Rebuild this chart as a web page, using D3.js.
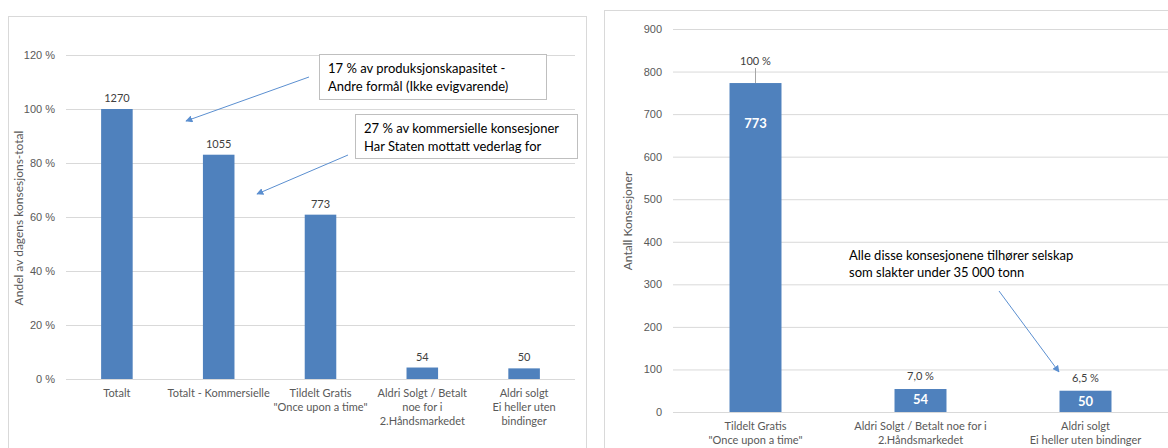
<!DOCTYPE html>
<html lang="no">
<head>
<meta charset="UTF-8">
<script src="https://d3js.org/d3.v7.min.js"></script>
<style>
    body { margin: 0; background: #fff; }
    svg { font-family: Lato, "Open Sans", sans-serif; }
    .grid line { stroke: #d9d9d9; stroke-width: 1px; }
    .grid .domain { display: none; }
    .tick text { fill: #595959; font-size: 11px; }
    .note { fill: #000; font-size: 13px; }
</style>
</head>
<body>
<div id="chart"></div>
<script>
    // Data - left chart (share of total licences)
    var leftCategories = [
        ["Totalt"],
        ["Totalt - Kommersielle"],
        ["Tildelt Gratis", "\"Once upon a time\""],
        ["Aldri Solgt / Betalt", "noe for i", "2.Håndsmarkedet"],
        ["Aldri solgt", "Ei heller uten", "bindinger"]
    ];
    var leftCounts = [1270, 1055, 773, 54, 50];
    var leftTotal = 1270;
    var leftTicks = [0, 0.2, 0.4, 0.6, 0.8, 1.0, 1.2];

    // Data - right chart (number of licences)
    var rightCategories = [
        ["Tildelt Gratis", "\"Once upon a time\""],
        ["Aldri Solgt / Betalt noe for i", "2.Håndsmarkedet"],
        ["Aldri solgt", "Ei heller uten bindinger"]
    ];
    var rightValues = [773, 54, 50];
    var rightShares = ["100 %", "7,0 %", "6,5 %"];
    var rightTicks = [0, 100, 200, 300, 400, 500, 600, 700, 800, 900];

    var barColor = "#4f81bd";
    var arrowColor = "#5b8fd0";

    var svg = d3.select("#chart").append("svg")
        .attr("width", 1168)
        .attr("height", 448);

    svg.append("defs").append("marker")
        .attr("id", "head")
        .attr("viewBox", "0 0 10 10")
        .attr("refX", 9).attr("refY", 5)
        .attr("markerWidth", 7).attr("markerHeight", 7)
        .attr("orient", "auto")
        .append("path")
        .attr("d", "M0,0 L10,5 L0,10 z")
        .attr("fill", arrowColor);

    // panel frames
    svg.append("rect").attr("x", 8.5).attr("y", 16.5).attr("width", 578).attr("height", 440)
        .attr("fill", "none").attr("stroke", "#d9d9d9");
    svg.append("rect").attr("x", 604.5).attr("y", 10.5).attr("width", 600).attr("height", 450)
        .attr("fill", "none").attr("stroke", "#d9d9d9");

    function labelLines(sel, lines, lh) {
        sel.text(null);
        lines.forEach(function (l, i) {
            sel.append("tspan").attr("x", 0).attr("dy", i === 0 ? "0.71em" : lh).text(l);
        });
    }

    // ---------- Left chart ----------
    var L = { left: 66, right: 575, top: 55, bottom: 379 };
    var xL = d3.scaleBand()
        .domain(d3.range(leftCounts.length))
        .range([L.left, L.right])
        .paddingInner(0.69).paddingOuter(0.345);
    var yL = d3.scaleLinear().domain([0, 1.2]).range([L.bottom, L.top]);

    var gL = svg.append("g");
    gL.append("g")
        .attr("class", "grid")
        .attr("transform", "translate(" + L.left + ",0)")
        .call(d3.axisLeft(yL).tickValues(leftTicks)
            .tickSize(-(L.right - L.left)).tickPadding(11)
            .tickFormat(function (d) { return Math.round(d * 100) + " %"; }));

    gL.selectAll(".bar")
        .data(leftCounts)
        .enter().append("rect")
        .attr("class", "bar")
        .attr("x", function (d, i) { return xL(i); })
        .attr("width", xL.bandwidth())
        .attr("y", function (d) { return yL(d / leftTotal); })
        .attr("height", function (d) { return L.bottom - yL(d / leftTotal); })
        .attr("fill", barColor);

    gL.selectAll(".vlab")
        .data(leftCounts)
        .enter().append("text")
        .attr("x", function (d, i) { return xL(i) + xL.bandwidth() / 2; })
        .attr("y", function (d) { return yL(d / leftTotal) - 7; })
        .attr("text-anchor", "middle")
        .attr("font-size", 11)
        .attr("fill", "#404040")
        .text(function (d) { return d; });

    var xaL = gL.append("g")
        .attr("transform", "translate(0," + (L.bottom + 10) + ")");
    xaL.selectAll("text")
        .data(leftCategories)
        .enter().append("text")
        .attr("transform", function (d, i) { return "translate(" + (xL(i) + xL.bandwidth() / 2) + ",0)"; })
        .attr("text-anchor", "middle")
        .attr("font-size", 11)
        .attr("fill", "#595959")
        .each(function (d) { labelLines(d3.select(this), d, "1.3em"); });

    gL.append("text")
        .attr("transform", "translate(23,218) rotate(-90)")
        .attr("text-anchor", "middle")
        .attr("font-size", 12)
        .attr("fill", "#595959")
        .text("Andel av dagens konsesjons-total");

    // annotation boxes
    function noteBox(x, y, w, h, lines) {
        svg.append("rect").attr("x", x + 0.5).attr("y", y + 0.5).attr("width", w).attr("height", h)
            .attr("fill", "#fff").attr("stroke", "#bfbfbf");
        var t = svg.append("text").attr("class", "note");
        lines.forEach(function (l, i) {
            t.append("tspan").attr("x", x + 9).attr("y", y + 19 + i * 18).text(l);
        });
    }
    noteBox(319, 54, 227, 45, ["17 % av produksjonskapasitet -", "Andre formål (Ikke evigvarende)"]);
    noteBox(355, 114, 222, 44, ["27 % av kommersielle konsesjoner", "Har Staten mottatt vederlag for"]);

    function arrow(x1, y1, x2, y2) {
        svg.append("line")
            .attr("x1", x1).attr("y1", y1).attr("x2", x2).attr("y2", y2)
            .attr("stroke", arrowColor).attr("stroke-width", 1)
            .attr("marker-end", "url(#head)");
    }
    arrow(309, 77, 186, 121);
    arrow(348, 155, 257, 194);

    // ---------- Right chart ----------
    var R = { left: 673, right: 1168, top: 29, bottom: 412 };
    var xR = d3.scaleBand()
        .domain(d3.range(rightValues.length))
        .range([R.left, R.right])
        .paddingInner(0.685).paddingOuter(0.3425);
    var yR = d3.scaleLinear().domain([0, 900]).range([R.bottom, R.top]);

    var gR = svg.append("g");
    gR.append("g")
        .attr("class", "grid")
        .attr("transform", "translate(" + R.left + ",0)")
        .call(d3.axisLeft(yR).tickValues(rightTicks)
            .tickSize(-(R.right - R.left)).tickPadding(11));

    gR.selectAll(".bar")
        .data(rightValues)
        .enter().append("rect")
        .attr("class", "bar")
        .attr("x", function (d, i) { return xR(i); })
        .attr("width", xR.bandwidth())
        .attr("y", function (d) { return yR(d); })
        .attr("height", function (d) { return R.bottom - yR(d); })
        .attr("fill", barColor);

    // value inside bar
    gR.selectAll(".inlab")
        .data(rightValues)
        .enter().append("text")
        .attr("x", function (d, i) { return xR(i) + xR.bandwidth() / 2; })
        .attr("y", function (d, i) { return i === 0 ? yR(d) + 45 : yR(d) + 15; })
        .attr("text-anchor", "middle")
        .attr("font-size", 13)
        .attr("font-weight", "bold")
        .attr("fill", "#fff")
        .text(function (d) { return d; });

    // share label above bar
    gR.selectAll(".share")
        .data(rightValues)
        .enter().append("text")
        .attr("x", function (d, i) { return xR(i) + xR.bandwidth() / 2; })
        .attr("y", function (d, i) { return i === 0 ? yR(d) - 18 : yR(d) - 9; })
        .attr("text-anchor", "middle")
        .attr("font-size", 11)
        .attr("fill", "#404040")
        .text(function (d, i) { return rightShares[i]; });

    // leader line for first share label
    gR.append("line")
        .attr("x1", xR(0) + xR.bandwidth() / 2).attr("x2", xR(0) + xR.bandwidth() / 2)
        .attr("y1", yR(rightValues[0]) - 15).attr("y2", yR(rightValues[0]))
        .attr("stroke", "#a6a6a6");

    var xaR = gR.append("g")
        .attr("transform", "translate(0," + (R.bottom + 10) + ")");
    xaR.selectAll("text")
        .data(rightCategories)
        .enter().append("text")
        .attr("transform", function (d, i) { return "translate(" + (xR(i) + xR.bandwidth() / 2) + ",0)"; })
        .attr("text-anchor", "middle")
        .attr("font-size", 11)
        .attr("fill", "#595959")
        .each(function (d) { labelLines(d3.select(this), d, "1.3em"); });

    gR.append("text")
        .attr("transform", "translate(632,221) rotate(-90)")
        .attr("text-anchor", "middle")
        .attr("font-size", 12)
        .attr("fill", "#595959")
        .text("Antall Konsesjoner");

    var note3 = svg.append("text").attr("class", "note");
    note3.append("tspan").attr("x", 849).attr("y", 260).text("Alle disse konsesjonene tilhører selskap");
    note3.append("tspan").attr("x", 849).attr("y", 277).text("som slakter under 35 000 tonn");
    arrow(999, 291, 1059, 372);
</script>
</body>
</html>
